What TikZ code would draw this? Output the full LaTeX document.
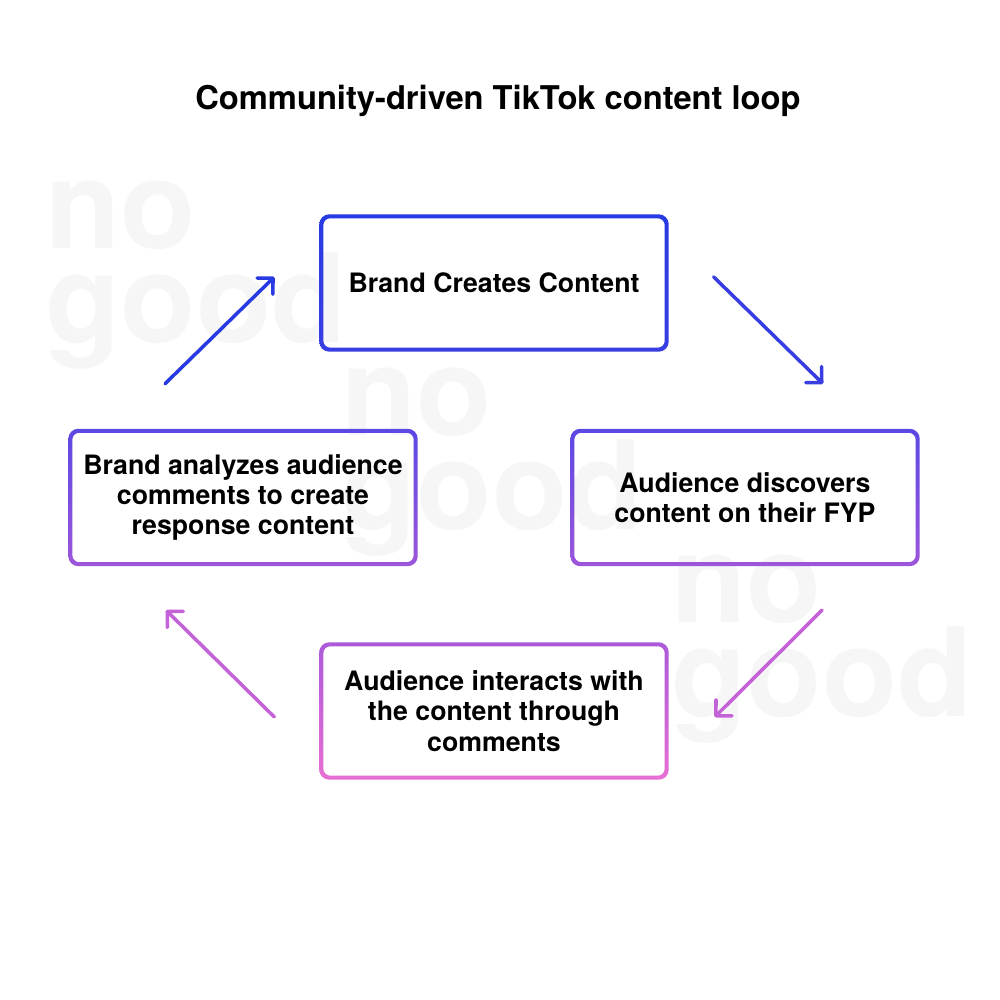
\documentclass[tikz,border=0pt]{standalone}
\usepackage{fontspec}
\setmainfont{TeX Gyre Heros}
\usetikzlibrary{arrows.meta}
\definecolor{blueA}{RGB}{40,58,226}
\definecolor{blueB}{RGB}{56,62,226}
\definecolor{violetA}{RGB}{92,72,228}
\definecolor{violetB}{RGB}{156,86,218}
\definecolor{pinkA}{RGB}{172,90,218}
\definecolor{pinkB}{RGB}{232,110,212}
\definecolor{pinkmid}{RGB}{196,98,216}
\definecolor{wmgray}{RGB}{246,246,246}
\begin{document}
\begin{tikzpicture}[
  stage/.style={minimum width=3.48cm, minimum height=1.36cm, inner sep=0pt, align=center, font=\bfseries\fontsize{7.6}{8.6}\selectfont},
  flow/.style={line width=1pt, line cap=round, -{Straight Barb[angle=90:1.6mm, round]}},
  wm/.style={text=wmgray, font=\bfseries\fontsize{35}{21}\selectfont, align=left, anchor=base west, inner sep=0pt}]
\useasboundingbox (0,0) rectangle (10,10);
\fill[white] (0,0) rectangle (10,10);
\foreach \i/\x/\y in {1/0.45/6.57, 2/3.41/4.70, 3/6.71/2.83}
  \node[wm] (logo\i) at (\x,\y) {no\\good};
\node[font=\bfseries\fontsize{9.3}{11}\selectfont, anchor=base] (title) at (4.98,8.90) {Community-driven TikTok content loop};
\node[stage] (create) at (4.94,7.17) {Brand Creates Content};
\node[stage] (discover) at (7.45,5.025) {Audience discovers\\content on their FYP};
\node[stage] (interact) at (4.94,2.89) {Audience interacts with\\the content through\\comments};
\node[stage] (analyze) at (2.43,5.025) {Brand analyzes audience\\comments to create\\response content};
\foreach \n/\ca/\cb in {create/blueA/blueB, discover/violetA/violetB, analyze/violetA/violetB, interact/pinkA/pinkB}
  \shade[top color=\ca, bottom color=\cb, even odd rule, rounded corners=1mm]
    (\n.south west) rectangle (\n.north east)
    [rounded corners=0.7mm] ([shift={(0.04,0.04)}]\n.south west) rectangle ([shift={(-0.04,-0.04)}]\n.north east);
\draw[flow, blueA] ([shift={(-0.78,0.45)}]analyze.north) -- ([shift={(-0.45,0.06)}]create.west);
\draw[flow, blueB] ([shift={(0.45,0.06)}]create.east) -- ([shift={(0.78,0.45)}]discover.north);
\draw[flow, pinkmid] ([shift={(0.77,-0.44)}]discover.south) -- ([shift={(0.46,-0.06)}]interact.east);
\draw[flow, pinkmid] ([shift={(-0.45,-0.06)}]interact.west) -- ([shift={(-0.77,-0.44)}]analyze.south);
\end{tikzpicture}
\end{document}
